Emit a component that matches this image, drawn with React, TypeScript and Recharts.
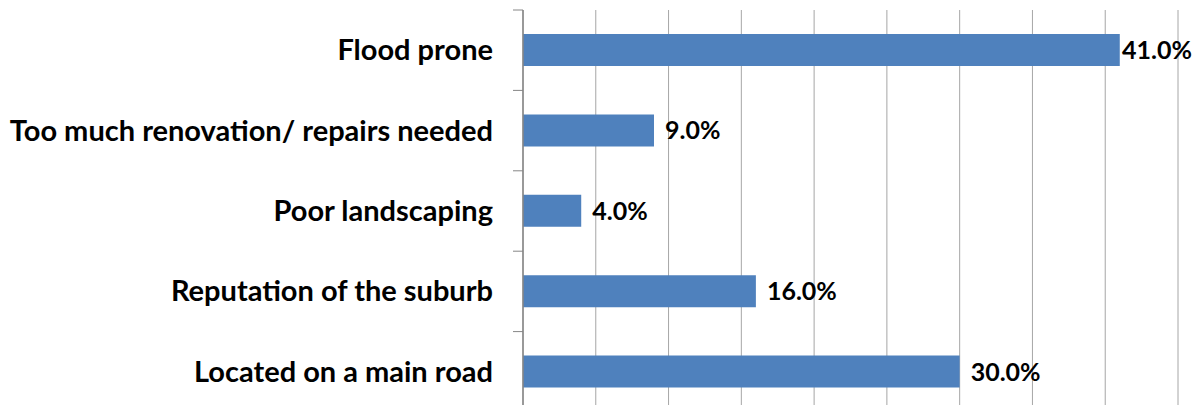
import React from 'react';
import { BarChart, Bar, XAxis, YAxis, CartesianGrid, LabelList } from 'recharts';

const categories = [
  'Flood prone',
  'Too much renovation/ repairs needed',
  'Poor landscaping',
  'Reputation of the suburb',
  'Located on a main road',
];
const values = [41, 9, 4, 16, 30];
const xTicks = [0, 5, 10, 15, 20, 25, 30, 35, 40, 45];

const data = categories.map((name, i) => ({ name, value: values[i] }));

const W = 1199;
const H = 416;
const M = { top: 10, right: 21, bottom: 4, left: 0 };
const BAND = (H - M.top - M.bottom) / categories.length;
const FONT = 'Lato, "Open Sans", sans-serif';

// category label in the middle of the band, tick marks on the band edges (Excel style)
const CategoryTick = (props: any) => {
  const { x, y, payload, index } = props;
  const axisX = x + 30;
  const top = y - BAND / 2;
  return (
    <g>
      <line x1={axisX - 10} x2={axisX} y1={top} y2={top} stroke="#868686" strokeWidth={1} />
      {index === categories.length - 1 && (
        <line x1={axisX - 10} x2={axisX} y1={top + BAND} y2={top + BAND} stroke="#868686" strokeWidth={1} />
      )}
      <text x={x} y={y} dy={10} textAnchor="end" fontFamily={FONT} fontWeight={700} fontSize={29} fill="#000">
        {payload.value}
      </text>
    </g>
  );
};

// value label right of the bar, pulled back in when it would run off the chart
const ValueLabel = (props: any) => {
  const { x, y, width, height, value } = props;
  const lx = Math.min(x + width + 11, W - 77);
  return (
    <text x={lx} y={y + height / 2} dy={9} fontFamily={FONT} fontWeight={700} fontSize={25} fill="#000">
      {`${Number(value).toFixed(1)}%`}
    </text>
  );
};

export default function App() {
  return (
    <div style={{ position: 'absolute', left: 0, top: 0, background: '#fff' }}>
      <BarChart width={W} height={H} data={data} layout="vertical" margin={M} barCategoryGap="20%">
        <CartesianGrid horizontal={false} stroke="#a6a6a6" />
        <XAxis type="number" domain={[0, 45]} ticks={xTicks} hide />
        <YAxis
          type="category"
          dataKey="name"
          width={523}
          tickLine={false}
          tickSize={10}
          tickMargin={20}
          axisLine={{ stroke: '#868686', strokeWidth: 1.5 }}
          tick={<CategoryTick />}
          interval={0}
        />
        <Bar dataKey="value" fill="#4F81BD" barSize={32} isAnimationActive={false}>
          <LabelList dataKey="value" content={<ValueLabel />} />
        </Bar>
      </BarChart>
    </div>
  );
}
